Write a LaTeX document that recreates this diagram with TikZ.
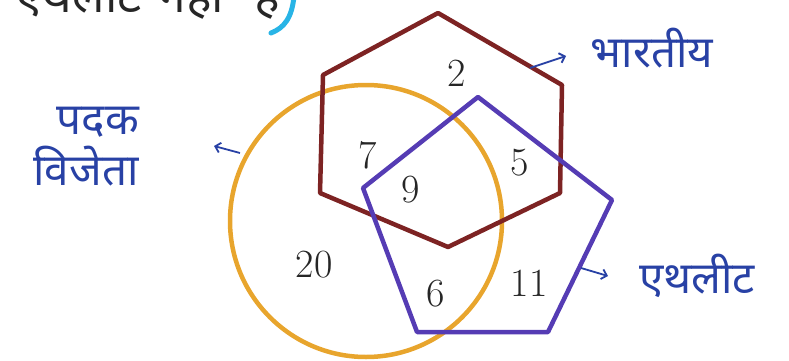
\documentclass[tikz,border=0pt]{standalone}
\usepackage{fontspec}
\newfontfamily\deva[Script=Devanagari]{Noto Sans}
\usetikzlibrary{arrows.meta}
\definecolor{hexc}{RGB}{125,35,35}
\definecolor{penc}{RGB}{85,60,180}
\definecolor{circc}{RGB}{232,165,45}
\definecolor{labc}{RGB}{40,65,165}
\definecolor{brc}{RGB}{40,180,230}
\tikzset{
  shapeline/.style={line width=4.5pt, line join=round, line cap=round},
  numtxt/.style={font=\fontsize{40}{40}\selectfont, text=black!85, inner sep=0pt},
  labtxt/.style={font=\deva\fontsize{44}{44}\selectfont, text=labc, inner sep=0pt},
  pointer/.style={labc, line width=1.8pt, -{Straight Barb[length=5pt,width=10pt]}},
}
\begin{document}
\begin{tikzpicture}[x=1pt,y=-1pt]
\useasboundingbox (0,0) rectangle (789,361);
% top cut-off line of text
\node[font=\deva\fontsize{48}{48}\selectfont, text=black!85, anchor=base east, inner sep=0pt] (toptext) at (280,13) {एथलीट\hspace{18pt}नहीं\hspace{30pt}है};
\draw[brc, line width=5pt, line cap=round] (294,-4) .. controls (292,18) and (284,28) .. (271,33);
% circle
\node[circle, draw=circc, line width=4.5pt, minimum size=272pt, inner sep=0pt] (medal) at (366,221) {};
% hexagon
\coordinate (h1) at (438,13);
\coordinate (h2) at (562,85);
\coordinate (h3) at (560,193);
\coordinate (h4) at (448,247);
\coordinate (h5) at (320,193);
\coordinate (h6) at (323,75);
\draw[shapeline, hexc] (h1) -- (h2) -- (h3) -- (h4) -- (h5) -- (h6) -- cycle;
% pentagon
\coordinate (p1) at (478,97);
\coordinate (p2) at (612,200);
\coordinate (p3) at (548,332);
\coordinate (p4) at (417,332);
\coordinate (p5) at (363,188);
\draw[shapeline, penc] (p1) -- (p2) -- (p3) -- (p4) -- (p5) -- cycle;
% numbers
\node[numtxt] (n2) at (457,73) {2};
\node[numtxt] (n7) at (368,155) {7};
\node[numtxt] (n9) at (411,190) {9};
\node[numtxt] (n5) at (520,163) {5};
\node[numtxt] (n20) at (314,265) {20};
\node[numtxt] (n6) at (436,294) {6};
\node[numtxt] (n11) at (529,283) {11};
% labels
\node[labtxt] (padak) at (98,122) {पदक};
\node[labtxt] (vijeta) at (86,166) {विजेता};
\node[labtxt] (bharatiya) at (652,48) {भारतीय};
\node[labtxt] (athlete) at (697,276) {एथलीट};
% pointers
\coordinate (cpt) at (240,153);
\coordinate (hpt) at (530,68);
\coordinate (ppt) at (581,268);
\draw[pointer] (cpt) -- (214,146);
\draw[pointer] (hpt) -- (566,56);
\draw[pointer] (ppt) -- (608,276);
\end{tikzpicture}
\end{document}
